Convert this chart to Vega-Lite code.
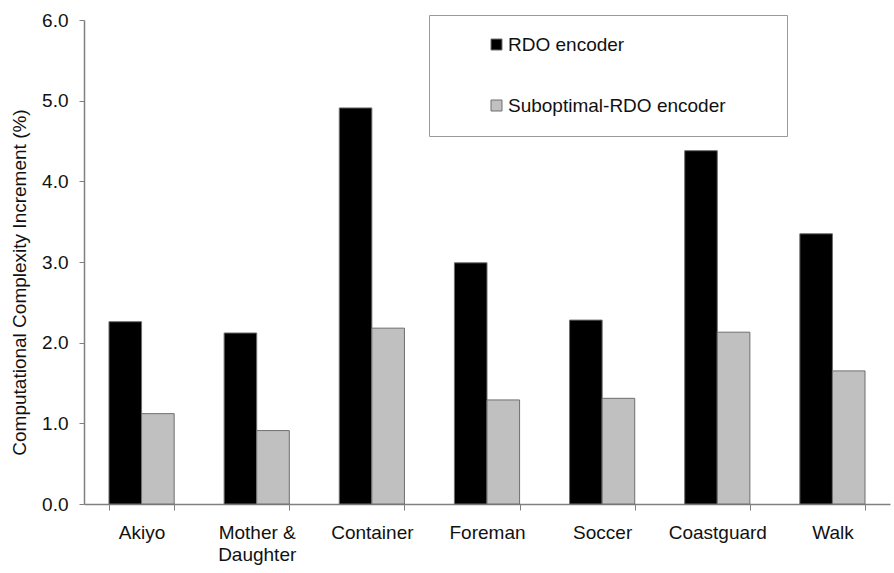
{
  "$schema": "https://vega.github.io/schema/vega-lite/v6.json",
  "autosize": {"type": "none"},
  "padding": {"left": 84, "top": 20, "right": 4, "bottom": 69},
  "width": 806,
  "height": 484,
  "background": "white",
  "config": {
    "view": {"stroke": null},
    "font": "Liberation Sans"
  },
  "data": {
    "values": [
      {"sequence": "Akiyo", "encoder": "RDO encoder", "value": 2.26},
      {"sequence": "Akiyo", "encoder": "Suboptimal-RDO encoder", "value": 1.12},
      {"sequence": "Mother & Daughter", "encoder": "RDO encoder", "value": 2.12},
      {"sequence": "Mother & Daughter", "encoder": "Suboptimal-RDO encoder", "value": 0.91},
      {"sequence": "Container", "encoder": "RDO encoder", "value": 4.91},
      {"sequence": "Container", "encoder": "Suboptimal-RDO encoder", "value": 2.18},
      {"sequence": "Foreman", "encoder": "RDO encoder", "value": 2.99},
      {"sequence": "Foreman", "encoder": "Suboptimal-RDO encoder", "value": 1.29},
      {"sequence": "Soccer", "encoder": "RDO encoder", "value": 2.28},
      {"sequence": "Soccer", "encoder": "Suboptimal-RDO encoder", "value": 1.31},
      {"sequence": "Coastguard", "encoder": "RDO encoder", "value": 4.38},
      {"sequence": "Coastguard", "encoder": "Suboptimal-RDO encoder", "value": 2.13},
      {"sequence": "Walk", "encoder": "RDO encoder", "value": 3.35},
      {"sequence": "Walk", "encoder": "Suboptimal-RDO encoder", "value": 1.65}
    ]
  },
  "mark": {"type": "bar", "stroke": "#6e6e6e", "strokeWidth": 1},
  "encoding": {
    "x": {
      "field": "sequence",
      "type": "nominal",
      "sort": null,
      "scale": {"paddingInner": 0.434, "paddingOuter": 0.217},
      "axis": {
        "title": null,
        "labelAngle": 0,
        "labelFontSize": 19,
        "labelColor": "#111",
        "labelPadding": 13,
        "labelLineHeight": 22,
        "labelExpr": "datum.label == 'Mother & Daughter' ? ['Mother &', 'Daughter'] : datum.label",
        "tickBand": "extent",
        "tickSize": 6,
        "tickColor": "#808080",
        "domainColor": "#808080",
        "domainWidth": 1.5
      }
    },
    "xOffset": {"field": "encoder", "type": "nominal", "sort": ["RDO encoder", "Suboptimal-RDO encoder"]},
    "y": {
      "field": "value",
      "type": "quantitative",
      "scale": {"domain": [0, 6], "nice": false},
      "axis": {
        "title": "Computational Complexity Increment (%)",
        "titleFontSize": 19,
        "titleFontWeight": "normal",
        "titleColor": "#111",
        "titleY": 262,
        "titlePadding": 12,
        "values": [0, 1, 2, 3, 4, 5, 6],
        "format": ".1f",
        "labelFontSize": 19,
        "labelColor": "#111",
        "labelPadding": 11,
        "tickSize": 5,
        "tickColor": "#808080",
        "domainColor": "#808080",
        "domainWidth": 1.5,
        "grid": false
      }
    },
    "color": {
      "field": "encoder",
      "type": "nominal",
      "scale": {"domain": ["RDO encoder", "Suboptimal-RDO encoder"], "range": ["#000000", "#c0c0c0"]},
      "legend": {
        "orient": "none",
        "legendX": 345,
        "legendY": -5,
        "title": "\u00a0",
        "titleOrient": "right",
        "titlePadding": 41,
        "padding": 20,
        "symbolOffset": 38,
        "symbolType": "square",
        "symbolSize": 121,
        "symbolStrokeColor": "#6e6e6e",
        "symbolStrokeWidth": 1,
        "labelFontSize": 19,
        "labelLimit": 400,
        "labelColor": "#111",
        "labelOffset": 2,
        "rowPadding": 41,
        "strokeColor": "#999999",
        "fillColor": "white"
      }
    }
  }
}
